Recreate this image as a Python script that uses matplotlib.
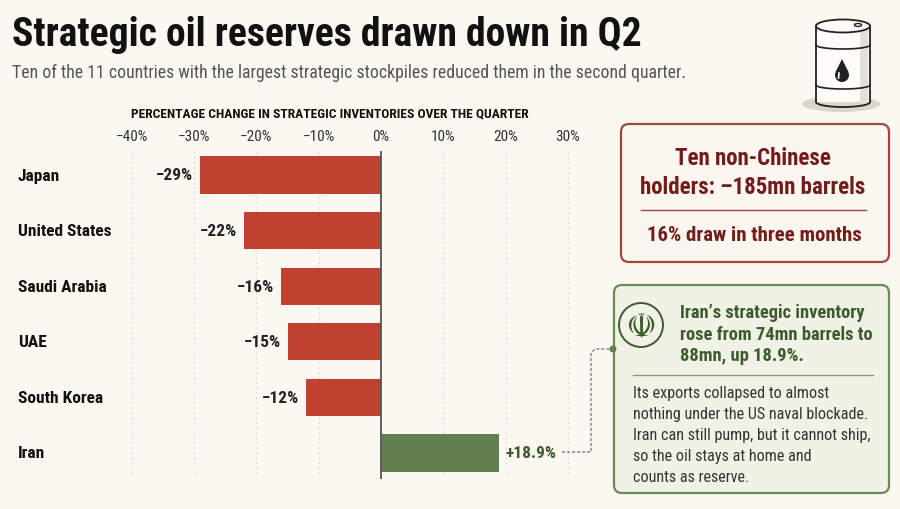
import numpy as np
import matplotlib.pyplot as plt
from matplotlib.patches import FancyBboxPatch, Ellipse, Rectangle, Circle, Polygon
from matplotlib import font_manager

# data
countries = ["Japan", "United States", "Saudi Arabia", "UAE", "South Korea", "Iran"]
changes = [-29, -22, -16, -15, -12, 18.9]
labels = ["\u221229%", "\u221222%", "\u221216%", "\u221215%", "\u221212%", "+18.9%"]
ticks = [-40, -30, -20, -10, 0, 10, 20, 30]
tick_labels = ["\u221240%", "\u221230%", "\u221220%", "\u221210%", "0%", "10%", "20%", "30%"]

names = {f.name for f in font_manager.fontManager.ttflist}
FONT = "DejaVu Sans"
for cand in ["Roboto Condensed", "Archivo Narrow", "Barlow Semi Condensed", "Asap Condensed"]:
    if cand in names:
        FONT = cand
        break
plt.rcParams['font.family'] = [FONT, 'DejaVu Sans']

BG = "#faf8f1"
RED = "#c0412f"
GREEN = "#637f4f"
DARKRED = "#731c1c"
DARKGREEN = "#3e5b2f"

W, H = 900, 510
fig = plt.figure(figsize=(W / 100, H / 100), dpi=100, facecolor=BG)

def fx(x):
    return x / W

def fy(y):
    return 1 - y / H

# title block
fig.text(fx(12), fy(46), "Strategic oil reserves drawn down in Q2", fontsize=28.5,
         fontweight='bold', color="#111111", va='baseline')
fig.text(fx(12), fy(78), "Ten of the 11 countries with the largest strategic stockpiles "
         "reduced them in the second quarter.", fontsize=12.8, color="#555555", va='baseline')

# chart axes (placed so 0% sits at x=381 px, 10% = 62.3 px)
left_px, right_px = 100, 590
top_px, bot_px = 150, 480
ppu = 6.23
ax = fig.add_axes([fx(left_px), fy(bot_px), (right_px - left_px) / W, (bot_px - top_px) / H])
ax.set_facecolor("none")
ax.set_xlim((left_px - 381) / ppu, (right_px - 381) / ppu)
ax.set_ylim((bot_px - 176) / 55.6, (top_px - 176) / 55.6)

y = np.arange(len(countries))
colors = [RED if v < 0 else GREEN for v in changes]
ax.barh(y, changes, height=0.67, color=colors, zorder=2)

for t in ticks:
    if t != 0:
        ax.plot([t, t], [-0.42, 5.4], color="#c8c8c8", lw=0.9, ls=(0, (1, 3)), zorder=1)
ax.plot([0, 0], [-0.42, 5.5], color="#555555", lw=1.3, zorder=3)

ax.set_xticks(ticks)
ax.set_xticklabels(tick_labels)
ax.xaxis.tick_top()
ax.tick_params(axis='x', length=0, pad=4, labelsize=11, labelcolor="#333333")
ax.set_yticks([])
for s in ax.spines.values():
    s.set_visible(False)

for i, (v, lab) in enumerate(zip(changes, labels)):
    if v < 0:
        ax.annotate(lab, (v, i), xytext=(-5, 0), textcoords='offset points',
                    ha='right', va='center', fontsize=12.5, fontweight='bold', color="#222222")
    else:
        ax.annotate(lab, (v, i), xytext=(5, 0), textcoords='offset points',
                    ha='left', va='center', fontsize=12.5, fontweight='bold', color=DARKGREEN)

for i, c in enumerate(countries):
    fig.text(fx(18), fy(176 + 55.6 * i), c, fontsize=12.5, fontweight='bold',
             color="#111111", va='center')

fig.text(fx(330), fy(114), "PERCENTAGE CHANGE IN STRATEGIC INVENTORIES OVER THE QUARTER",
         fontsize=9.7, fontweight='bold', ha='center', va='center', color="#111111")

# overlay axes in pixel coordinates for decorations
ov = fig.add_axes([0, 0, 1, 1])
ov.set_xlim(0, W)
ov.set_ylim(H, 0)
ov.axis('off')
ov.set_facecolor("none")

# red summary box
ov.add_patch(FancyBboxPatch((621, 125), 268, 138, boxstyle="round,pad=0,rounding_size=8",
                            fc="#fbf6f0", ec="#a0463e", lw=1.6))
ov.text(753, 173, "Ten non-Chinese\nholders: \u2013185mn barrels", ha='center', va='center',
        fontsize=16.5, fontweight='bold', color=DARKRED, linespacing=1.3)
ov.plot([641, 866], [211, 211], color="#a0463e", lw=1.0)
ov.text(754, 236, "16% draw in three months", ha='center', va='center',
        fontsize=15, fontweight='bold', color=DARKRED)

# green Iran box
ov.add_patch(FancyBboxPatch((614, 286), 275, 208, boxstyle="round,pad=0,rounding_size=8",
                            fc="#f1f2e6", ec="#6b8a5a", lw=1.6))
ov.add_patch(Circle((641, 326), 22, fc="none", ec=DARKGREEN, lw=1.4))
ov.text(641, 327, "\u262b", ha='center', va='center', fontsize=25, color=DARKGREEN,
        family='DejaVu Sans')
ov.text(680, 335, "Iran\u2019s strategic inventory\nrose from 74mn barrels to\n88mn, up 18.9%.",
        ha='left', va='center', fontsize=13.3, fontweight='bold', color=DARKGREEN,
        linespacing=1.25)
ov.plot([633, 873], [376, 376], color="#8a9a80", lw=1.0)
ov.text(633, 436, "Its exports collapsed to almost\nnothing under the US naval blockade.\n"
        "Iran can still pump, but it cannot ship,\nso the oil stays at home and\n"
        "counts as reserve.", ha='left', va='center', fontsize=11.6, color="#333333",
        linespacing=1.5)

# dashed connector
ov.plot([562, 591, 591, 595, 613], [453, 453, 354, 350, 350], color="#777777",
        lw=0.9, ls=(0, (2.5, 1.5)))
ov.add_patch(Circle((613, 350), 3.5, fc=GREEN, ec="none", zorder=5))

# barrel icon
cx, bw, ytop, ybot = 843, 54, 27, 103
xl, xr = cx - bw / 2, cx + bw / 2
ov.add_patch(Ellipse((cx - 2, ybot + 2), 78, 16, fc="#d9d6cd", ec="none"))
ov.add_patch(Rectangle((xl, ytop), bw, ybot - ytop, fc="#fdfcf8", ec="none"))
ov.add_patch(Rectangle((xr - 10, ytop + 2), 8, ybot - ytop, fc="#e3e0d8", ec="none"))
ov.plot([xl, xl], [ytop, ybot], color="#222222", lw=1.3)
ov.plot([xr, xr], [ytop, ybot], color="#222222", lw=1.3)
ts = np.linspace(0, np.pi, 40)
ov.plot(cx - bw / 2 * np.cos(ts), ybot + 5 * np.sin(ts), color="#222222", lw=1.3)
ov.add_patch(Ellipse((cx, ytop), bw, 13, fc="#fdfcf8", ec="#222222", lw=1.3))
ov.add_patch(Ellipse((cx + 15, ytop - 1), 7, 3, fc="none", ec="#222222", lw=1.0))
for yy in (46, 86):
    ov.plot(cx - bw / 2 * np.cos(ts), yy + 4 * np.sin(ts), color="#222222", lw=1.2)
# oil drop
ov.add_patch(Circle((cx - 1, 76), 7, fc="#222222", ec="none"))
ov.add_patch(Polygon([[cx - 7.5, 73], [cx + 5.5, 73], [cx - 1, 60]], fc="#222222", ec="none"))
ov.plot([cx - 4, cx - 4.5], [74, 79], color="white", lw=1.2)

fig.savefig("out.png", dpi=100, facecolor=BG)
